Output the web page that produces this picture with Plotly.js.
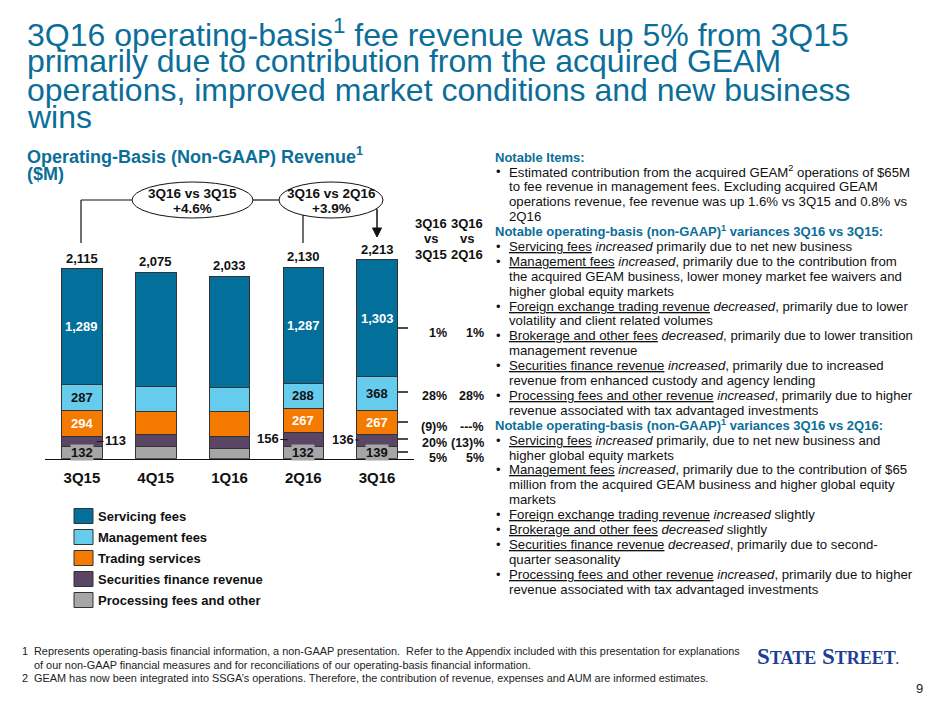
<!DOCTYPE html>
<html>
<head>
<meta charset="utf-8">
<script src="https://cdn.plot.ly/plotly-3.0.1.min.js"></script>
<style>
html,body{margin:0;padding:0;background:#fff;}
#chart{width:940px;height:705px;}
</style>
</head>
<body>
<div id="chart"></div>
<script>
// ---------------- DATA ----------------
const categories = ['3Q15', '4Q15', '1Q16', '2Q16', '3Q16'];
const seriesNames = ['Servicing fees', 'Management fees', 'Trading services', 'Securities finance revenue', 'Processing fees and other'];
const servicingFees = [1289, 1273, 1239, 1287, 1303];
const managementFees = [287, 278, 272, 288, 368];
const tradingServices = [294, 256, 274, 267, 267];
const securitiesFinance = [113, 127, 130, 156, 136];
const processingFees = [132, 141, 118, 132, 139];
const totals = [2115, 2075, 2033, 2130, 2213];
const labelShown = [true, false, false, true, true];
const vs3Q15 = ['1%', '28%', '(9)%', '20%', '5%'];
const vs2Q16 = ['1%', '28%', '---%', '(13)%', '5%'];
const callouts = [{text: '3Q16 vs 3Q15', value: '+4.6%'}, {text: '3Q16 vs 2Q16', value: '+3.9%'}];

// ---------------- STYLE ----------------
const colors = ['#02709A', '#66CCEE', '#F47A00', '#5B4565', '#A6A6A6'];
const FONT = 'Liberation Sans, Arial, Helvetica, sans-serif';
const NARROW = 'Liberation Sans Narrow, Arial Narrow, sans-serif';
const TEAL = '#0B6E99';
const W = 940, H = 705;
const px = x => x / W;
const py = y => 1 - y / H;
const fmt = v => v.toLocaleString('en-US');

// stacking order: bottom -> top
const stackBottomUp = [processingFees, securitiesFinance, tradingServices, managementFees, servicingFees];
const nameBottomUp = [seriesNames[4], seriesNames[3], seriesNames[2], seriesNames[1], seriesNames[0]];
const colorBottomUp = [colors[4], colors[3], colors[2], colors[1], colors[0]];

const traces = stackBottomUp.map((vals, k) => ({
  type: 'bar',
  name: nameBottomUp[k],
  x: categories,
  y: vals,
  marker: {color: colorBottomUp[k], line: {color: '#333', width: 1}},
  hoverinfo: 'skip'
}));

const annotations = [];
const shapes = [];
// paper-referenced text helper
function P(x, y, text, size, color, opts) {
  annotations.push(Object.assign({x: px(x), y: py(y), xref: 'paper', yref: 'paper', xanchor: 'left', yanchor: 'middle',
    showarrow: false, text: text, font: {family: FONT, size: size, color: color || '#111'}}, opts || {}));
}

// segment labels inside bars (data coordinates)
const insideSeries = [
  {vals: servicingFees, below: [processingFees, securitiesFinance, tradingServices, managementFees], color: '#fff'},
  {vals: managementFees, below: [processingFees, securitiesFinance, tradingServices], color: '#111'},
  {vals: tradingServices, below: [processingFees, securitiesFinance], color: '#fff'}
];
insideSeries.forEach(s => {
  categories.forEach((c, i) => {
    if (!labelShown[i]) return;
    const base = s.below.reduce((a, arr) => a + arr[i], 0);
    annotations.push({x: c, y: base + s.vals[i] / 2, xref: 'x', yref: 'y', xanchor: 'center', yanchor: 'middle',
      text: '<b>' + fmt(s.vals[i]) + '</b>', showarrow: false, font: {family: FONT, size: 13, color: s.color}});
  });
});
// totals above bars
categories.forEach((c, i) => {
  annotations.push({x: c, y: totals[i], xref: 'x', yref: 'y', xanchor: 'center', yanchor: 'bottom', yshift: 1,
    text: '<b>' + fmt(totals[i]) + '</b>', showarrow: false, font: {family: FONT, size: 13, color: '#111'}});
});
// processing labels with grey box
categories.forEach((c, i) => {
  if (!labelShown[i]) return;
  annotations.push({x: c, y: processingFees[i] / 2, xref: 'x', yref: 'y', xanchor: 'center', yanchor: 'middle',
    text: '<b>' + processingFees[i] + '</b>', showarrow: false, bgcolor: colors[4], borderpad: 0,
    font: {family: FONT, size: 13, color: '#111'}});
});
// securities finance labels with leader lines
const secSide = [1, 0, 0, -1, -1];
const secInset = [0.2, 0, 0, 0.21, 0.25];
const secAx = [19, 0, 0, -20, -16];
categories.forEach((c, i) => {
  if (!labelShown[i]) return;
  annotations.push({x: i + secSide[i] * secInset[i], y: processingFees[i] + securitiesFinance[i] / 2,
    xref: 'x', yref: 'y', text: '<b>' + securitiesFinance[i] + '</b>', showarrow: true, arrowhead: 0,
    arrowwidth: 1, arrowcolor: '#111', ax: secAx[i], ay: -1, standoff: 0, startstandoff: 0,
    font: {family: FONT, size: 13, color: '#111'}});
});

// callout ellipses and connectors
const ell = [[132, 253], [279, 383]];
ell.forEach((e, k) => {
  shapes.push({type: 'circle', xref: 'paper', yref: 'paper', x0: px(e[0]), x1: px(e[1]), y0: py(218), y1: py(182),
    line: {color: '#111', width: 1}, fillcolor: 'rgba(255,255,255,0)'});
  P((e[0] + e[1]) / 2, 193, '<b>' + callouts[k].text + '</b>', 13.5, '#111', {xanchor: 'center'});
  P((e[0] + e[1]) / 2, 208, '<b>' + callouts[k].value + '</b>', 13.5, '#111', {xanchor: 'center'});
});
const seg = (x0, y0, x1, y1, w) => shapes.push({type: 'line', xref: 'paper', yref: 'paper',
  x0: px(x0), y0: py(y0), x1: px(x1), y1: py(y1), line: {color: '#111', width: w || 1.2}});
seg(81, 243, 81, 200);
seg(81, 200, 132, 200);
seg(253, 200, 279, 200);
seg(303, 215, 303, 243);
seg(377, 209, 377, 229, 1.5);
shapes.push({type: 'path', xref: 'paper', yref: 'paper', fillcolor: '#111', line: {color: '#111', width: 1},
  path: 'M ' + px(372.5) + ' ' + py(228) + ' L ' + px(381.5) + ' ' + py(228) + ' L ' + px(377) + ' ' + py(237) + ' Z'});

// comparison column headers
const hdr = [['3Q16', 'vs', '3Q15'], ['3Q16', 'vs', '2Q16']];
const hdrX = [431, 467];
const hdrY = [223, 239, 254];
hdr.forEach((h, k) => h.forEach((t, j) => P(hdrX[k], hdrY[j], '<b>' + t + '</b>', 13, '#111', {xanchor: 'center'})));

// percentage rows and tick marks
const rowY = [333, 396, 427, 443, 457.5];
const tickY = [328, 392, 422, 439, 452];
vs3Q15.forEach((t, j) => {
  P(449, rowY[j], '<b>' + t + '</b>', 12.5, '#111', {xanchor: 'right'});
  P(486, rowY[j], '<b>' + vs2Q16[j] + '</b>', 12.5, '#111', {xanchor: 'right'});
  seg(398, tickY[j], 408, tickY[j], 1.5);
});

// legend (custom)
const legY = [516, 537, 558, 579, 600];
seriesNames.forEach((n, j) => {
  shapes.push({type: 'rect', xref: 'paper', yref: 'paper', x0: px(74), x1: px(93), y0: py(legY[j] + 7.5), y1: py(legY[j] - 7.5),
    fillcolor: colors[j], line: {color: '#333', width: 1}});
  P(96, legY[j], '<b>' + n + '</b>', 13, '#111');
});

// title
const titleLines = ['3Q16 operating-basis<sup>1</sup> fee revenue was up 5% from 3Q15',
  'primarily due to contribution from the acquired GEAM',
  'operations, improved market conditions and new business',
  'wins'];
const titleY = [33, 61.5, 89.5, 117];
titleLines.forEach((t, j) => P(25, titleY[j], t, 32, TEAL));
P(25, 155, '<b>Operating-Basis (Non-GAAP) Revenue<sup>1</sup></b>', 18, TEAL);
P(25, 174, '<b>($M)</b>', 18, TEAL);

// right-hand notes: [type, text] H = header, B = bullet, C = continuation
const notes = [
  ['H', 'Notable Items:'],
  ['B', 'Estimated contribution from the acquired GEAM<sup>2</sup> operations of $65M'],
  ['C', 'to fee revenue in management fees. Excluding acquired GEAM'],
  ['C', 'operations revenue, fee revenue was up 1.6% vs 3Q15 and 0.8% vs'],
  ['C', '2Q16'],
  ['H', 'Notable operating-basis (non-GAAP)<sup>1</sup> variances 3Q16 vs 3Q15:'],
  ['B', '<u>Servicing fees</u> <i>increased</i> primarily due to net new business'],
  ['B', '<u>Management fees</u> <i>increased</i>, primarily due to the contribution from'],
  ['C', 'the acquired GEAM business, lower money market fee waivers and'],
  ['C', 'higher global equity markets'],
  ['B', '<u>Foreign exchange trading revenue</u> <i>decreased</i>, primarily due to lower'],
  ['C', 'volatility and client related volumes'],
  ['B', '<u>Brokerage and other fees</u> <i>decreased</i>, primarily due to lower transition'],
  ['C', 'management revenue'],
  ['B', '<u>Securities finance revenue</u> <i>increased</i>, primarily due to increased'],
  ['C', 'revenue from enhanced custody and agency lending'],
  ['B', '<u>Processing fees and other revenue</u> <i>increased</i>, primarily due to higher'],
  ['C', 'revenue associated with tax advantaged investments'],
  ['H', 'Notable operating-basis (non-GAAP)<sup>1</sup> variances 3Q16 vs 2Q16:'],
  ['B', '<u>Servicing fees</u> <i>increased</i> primarily, due to net new business and'],
  ['C', 'higher global equity markets'],
  ['B', '<u>Management fees</u> <i>increased</i>, primarily due to the contribution of $65'],
  ['C', 'million from the acquired GEAM business and higher global equity'],
  ['C', 'markets'],
  ['B', '<u>Foreign exchange trading revenue</u> <i>increased</i> slightly'],
  ['B', '<u>Brokerage and other fees</u> <i>decreased</i> slightly'],
  ['B', '<u>Securities finance revenue</u> <i>decreased</i>, primarily due to second-'],
  ['C', 'quarter seasonality'],
  ['B', '<u>Processing fees and other revenue</u> <i>increased</i>, primarily due to higher'],
  ['C', 'revenue associated with tax advantaged investments']
];
const noteTop = 157, noteStep = 14.9;
notes.forEach((n, j) => {
  const y = noteTop + j * noteStep;
  if (n[0] === 'H') {
    P(493, y, '<b>' + n[1] + '</b>', 13, TEAL);
  } else {
    if (n[0] === 'B') P(494, y, '•', 13, '#111');
    P(507, y, n[1], 13.2, '#111');
  }
});

// footnotes
const footNums = ['1', '', '2'];
const footLines = ['Represents operating-basis financial information, a non-GAAP presentation.  Refer to the Appendix included with this presentation for explanations',
  'of our non-GAAP financial measures and for reconciliations of our operating-basis financial information.',
  'GEAM has now been integrated into SSGA\u2019s operations. Therefore, the contribution of revenue, expenses and AUM are informed estimates.'];
const footY = [651, 664.5, 678];
footLines.forEach((t, j) => {
  if (footNums[j]) annotations.push({x: px(20), y: py(footY[j]), xref: 'paper', yref: 'paper', xanchor: 'left', yanchor: 'middle',
    showarrow: false, text: footNums[j], font: {family: NARROW, size: 10.9, color: '#222'}});
  annotations.push({x: px(32), y: py(footY[j]), xref: 'paper', yref: 'paper', xanchor: 'left', yanchor: 'middle',
    showarrow: false, text: t, font: {family: NARROW, size: 10.9, color: '#222'}});
});

// logo and page number
P(755, 656, '<b>S<span style="font-size:18px">TATE</span> S<span style="font-size:18px">TREET</span><span style="font-size:12px">.</span></b>',
  23, '#1C3F94');
annotations[annotations.length - 1].font.family = 'Liberation Serif, Times New Roman, serif';
P(919, 688, '9', 13, '#222', {xanchor: 'center'});

const layout = {
  width: W, height: H,
  margin: {l: 0, r: 0, t: 0, b: 0},
  paper_bgcolor: '#fff', plot_bgcolor: 'rgba(0,0,0,0)',
  barmode: 'stack', bargap: 0.45, showlegend: false,
  font: {family: FONT},
  xaxis: {domain: [px(45), px(414)], range: [-0.5, 4.5], type: 'category', showline: true, linecolor: '#111', linewidth: 1.5,
    ticks: '', showgrid: false, zeroline: false, fixedrange: true, ticklabelstandoff: 5,
    tickfont: {family: FONT, size: 15, color: '#111', weight: 'bold'}},
  yaxis: {domain: [1 - 458.7 / H, 1 - 234.2 / H], range: [0, 2500], visible: false, fixedrange: true},
  annotations: annotations,
  shapes: shapes
};

Plotly.newPlot('chart', traces, layout, {displayModeBar: false, staticPlot: true});
</script>
</body>
</html>
